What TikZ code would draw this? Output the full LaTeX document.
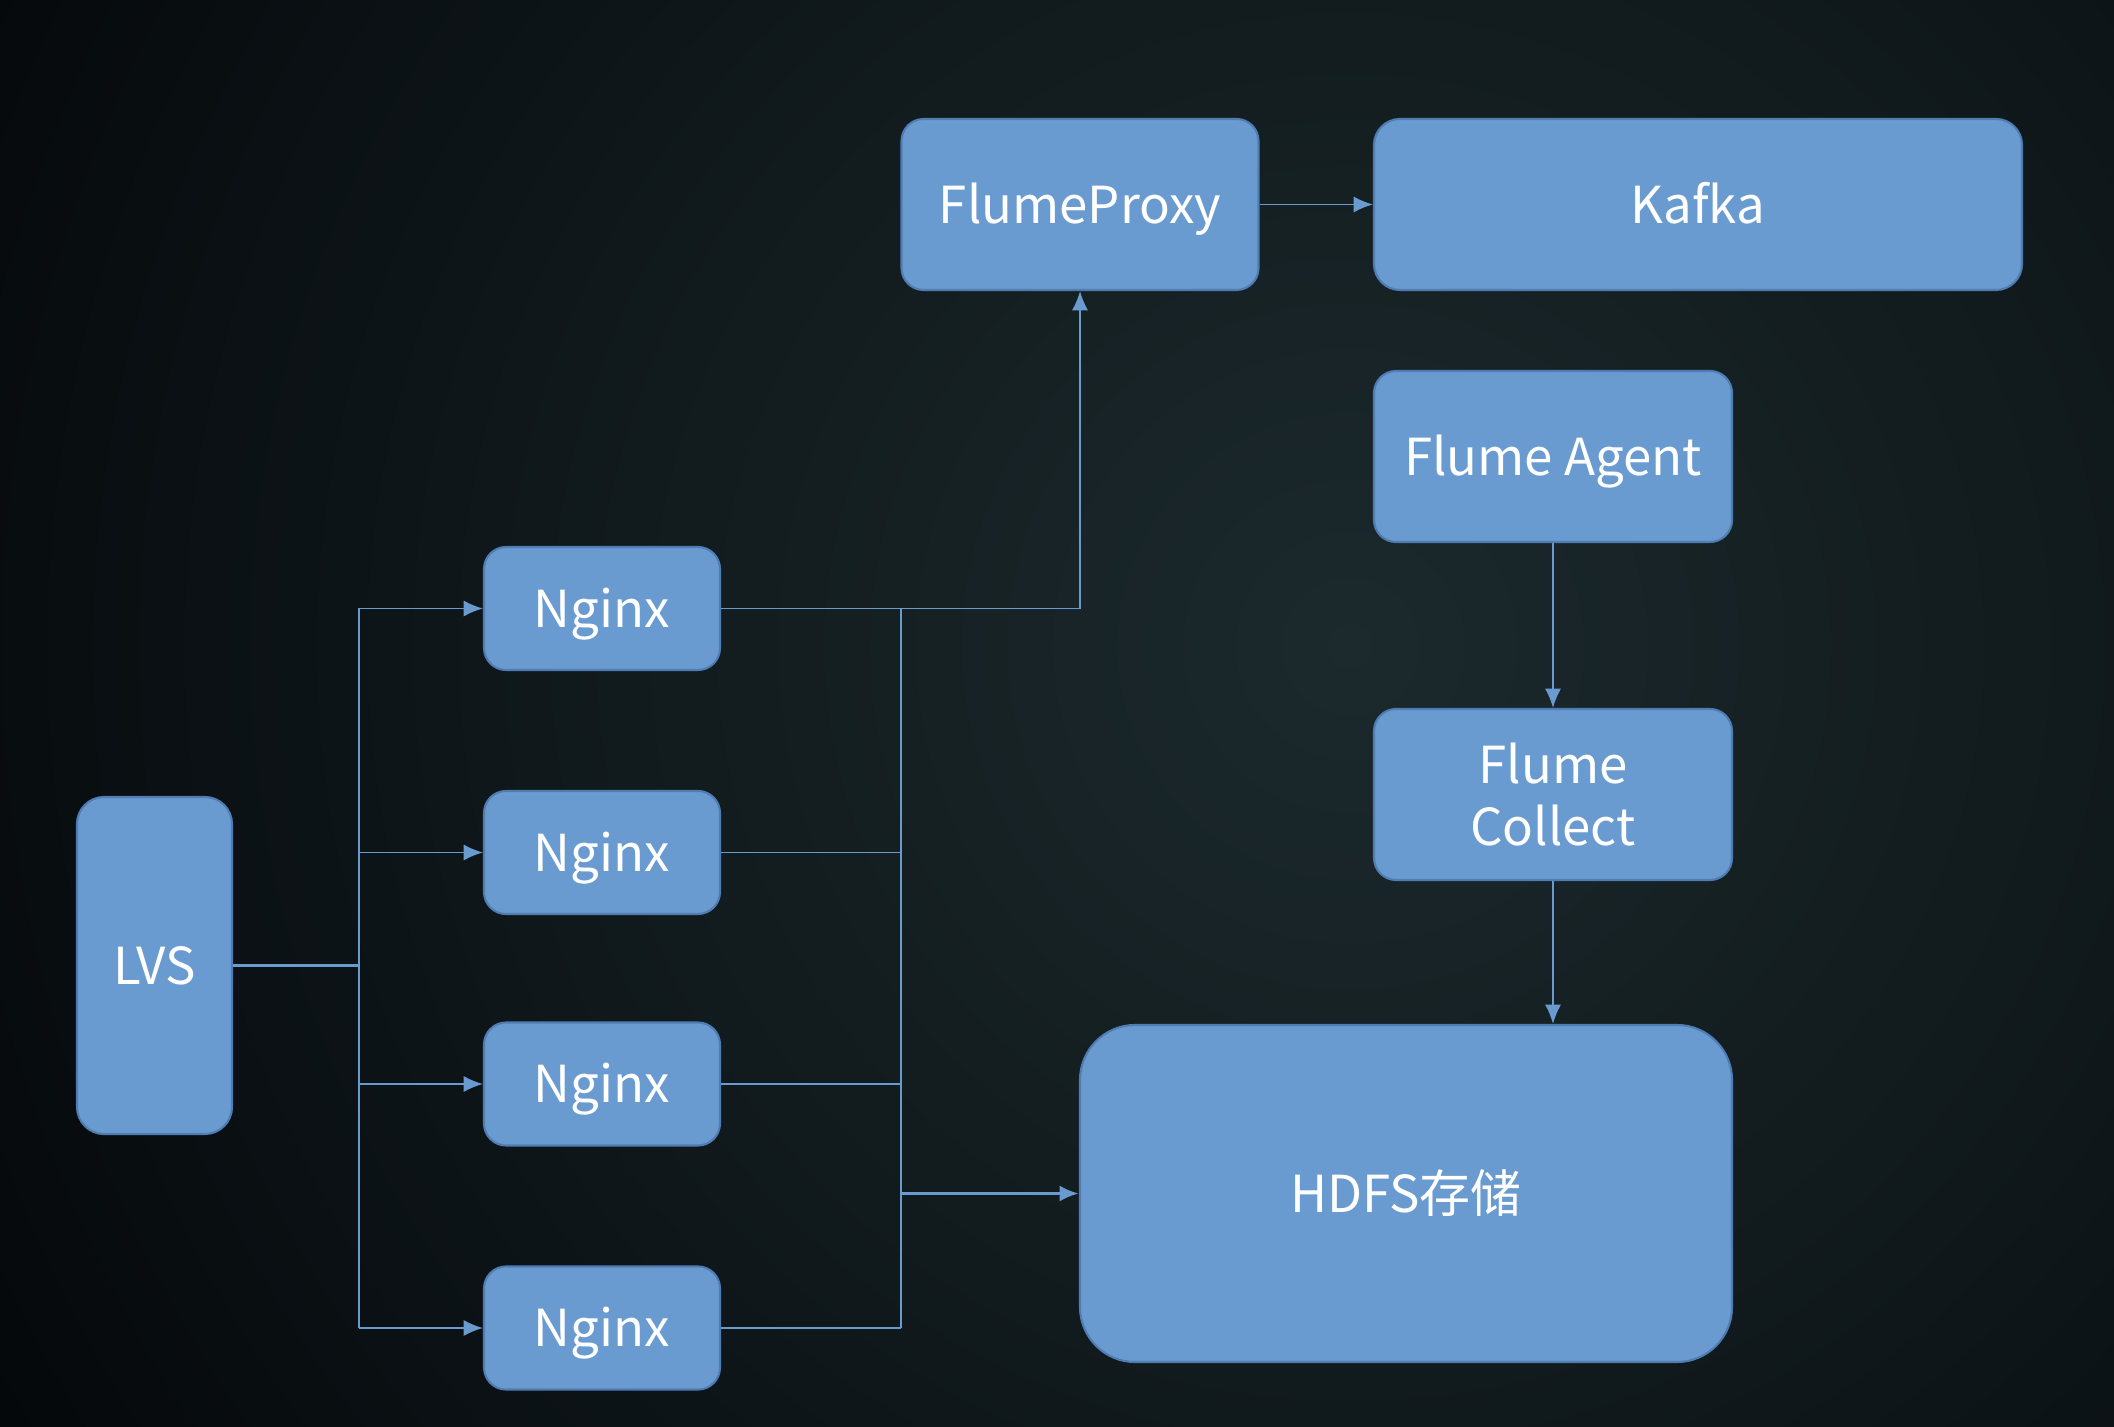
\documentclass[tikz,border=0pt]{standalone}
\usepackage{fontspec}
\setmainfont{Noto Sans CJK SC}
\usepackage{xcolor}
\usetikzlibrary{arrows.meta}
\definecolor{bgin}{HTML}{1C2A2D}
\definecolor{bgout}{HTML}{04070A}
\definecolor{boxfill}{HTML}{6A9BD0}
\definecolor{boxedge}{HTML}{4F7DB3}
\definecolor{wirecol}{HTML}{6A9BD0}
\tikzset{
  >={Latex[length=5.5pt,width=4.6pt]},
}
\tikzstyle{block}=[draw=boxedge,line width=0.6pt,fill=boxfill,text=white,rounded corners=0.22cm,inner sep=0pt,align=center,font=\fontsize{14.5}{17.5}\selectfont]
\tikzstyle{oneline}=[text height=10.6pt,text depth=0pt]
\tikzstyle{nginx}=[block,oneline,minimum width=2.36cm,minimum height=1.23cm]
\tikzstyle{wire}=[draw=wirecol,line width=0.5pt]
\tikzstyle{trunk}=[wire,line width=1pt]

\begin{document}
\begin{tikzpicture}
    \useasboundingbox (0,0) rectangle (21.14,14.26);
    \begin{scope}
      \clip (0,0) rectangle (21.14,14.26);
      \shade[inner color=bgin,outer color=bgout] (13.5,7.8) circle (16);
    \end{scope}
    % boxes
    \node[block,oneline,minimum width=3.57cm,minimum height=1.71cm] (proxy) at (10.80,12.215) {FlumeProxy};
    \node[block,oneline,minimum width=6.48cm,minimum height=1.71cm,rounded corners=0.26cm] (kafka) at (16.98,12.215) {Kafka};
    \node[block,oneline,minimum width=3.58cm,minimum height=1.71cm] (agent) at (15.53,9.695) {Flume Agent};
    \node[block,minimum width=3.58cm,minimum height=1.71cm] (collect) at (15.53,6.315) {Flume\\Collect};
    \node[block,oneline,minimum width=6.52cm,minimum height=3.37cm,rounded corners=0.55cm] (hdfs) at (14.06,2.325) {HDFS存储};
    \node[block,oneline,minimum width=1.55cm,minimum height=3.37cm,rounded corners=0.27cm] (lvs) at (1.545,4.605) {LVS};
    \node[nginx] (ng1) at (6.02,8.175) {Nginx};
    \node[nginx] (ng2) at (6.02,5.735) {Nginx};
    \node[nginx] (ng3) at (6.02,3.42) {Nginx};
    \node[nginx] (ng4) at (6.02,0.98) {Nginx};
    \coordinate (lbus) at (3.59,0);
    \coordinate (rbus) at (9.01,0);
    % LVS to nginx
    \draw[trunk] (lvs.east) -- (lvs.east -| lbus);
    \draw[wire] (ng1.west -| lbus) -- (ng4.west -| lbus);
    \foreach \n in {ng1,ng2,ng3,ng4}
      \draw[wire,->] (\n.west -| lbus) -- (\n.west);
    % nginx to proxy and hdfs
    \foreach \n in {ng1,ng2,ng3,ng4}
      \draw[wire] (\n.east) -- (\n.east -| rbus);
    \draw[wire] (ng1.east -| rbus) -- (ng4.east -| rbus);
    \draw[wire,->] (ng1.east -| rbus) -| (proxy.south);
    \draw[trunk,->] (hdfs.west -| rbus) -- (hdfs.west);
    % flume chain
    \draw[wire,->] (proxy) -- (kafka);
    \draw[wire,->] (agent) -- (collect);
    \draw[wire,->] (collect) -- (collect |- hdfs.north);
\end{tikzpicture}
\end{document}
